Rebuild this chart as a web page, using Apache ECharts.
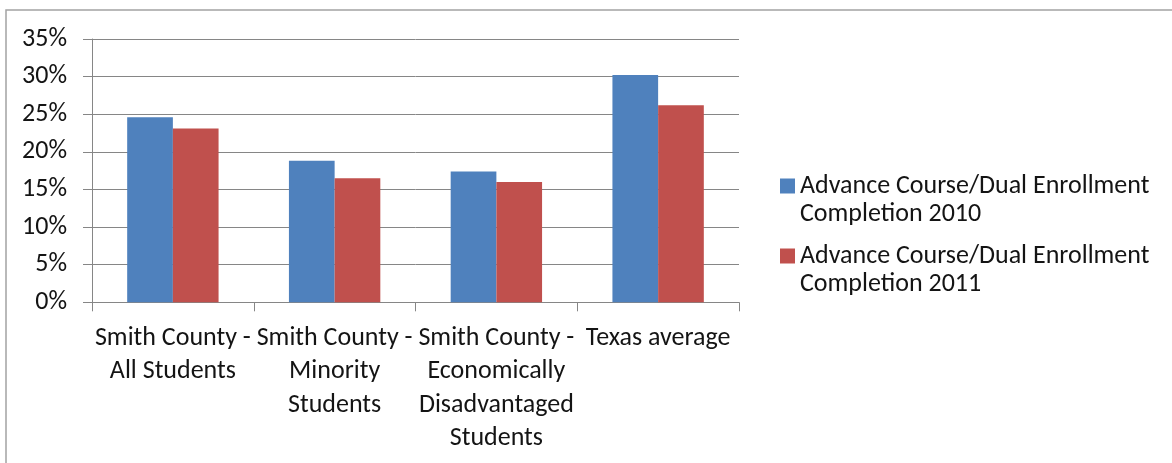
<!DOCTYPE html>
<html>
<head>
<meta charset="utf-8">
<script src="https://cdn.jsdelivr.net/npm/echarts@6/dist/echarts.min.js"></script>
<style>html,body{margin:0;padding:0;background:#fff}#chart{width:1172px;height:463px}</style>
</head>
<body>
<div id="chart"></div>
<script>
// ---- data ----
var categories = [
  'Smith County -\nAll Students',
  'Smith County -\nMinority\nStudents',
  'Smith County -\nEconomically\nDisadvantaged\nStudents',
  'Texas average'
];
var seriesNames = [
  'Advance Course/Dual Enrollment Completion 2010',
  'Advance Course/Dual Enrollment Completion 2011'
];
var values2010 = [24.6, 18.8, 17.4, 30.2];
var values2011 = [23.1, 16.5, 16.0, 26.2];
var yTicks = [0, 5, 10, 15, 20, 25, 30, 35];

// ---- chart ----
var FONT = 'Carlito, Lato, sans-serif';
var TXT = '#141414';
var GRID = '#868686';
var chart = echarts.init(document.getElementById('chart'), null, {renderer: 'canvas'});
chart.setOption({
  animation: false,
  backgroundColor: '#ffffff',
  color: ['#4F81BD', '#C0504D'],
  graphic: [{
    type: 'rect',
    shape: {x: 6, y: 10, width: 1300, height: 600},
    style: {fill: 'none', stroke: '#a3a3a3', lineWidth: 1.5},
    silent: true
  }],
  grid: {left: 92, right: 433, top: 39, bottom: 160.7, containLabel: false},
  legend: {
    orient: 'vertical',
    left: 780,
    top: 144,
    padding: 0,
    itemWidth: 15,
    itemHeight: 15,
    itemGap: -14,
    icon: 'rect',
    data: seriesNames,
    formatter: function (n) { return '\n' + n.replace(' Completion', '\nCompletion'); },
    textStyle: {fontFamily: FONT, fontSize: 26, lineHeight: 28, color: TXT}
  },
  xAxis: {
    type: 'category',
    data: categories,
    axisLine: {show: true, lineStyle: {color: GRID, width: 1}},
    axisTick: {show: true, length: 9, alignWithLabel: false, lineStyle: {color: GRID}},
    axisLabel: {interval: 0, margin: 19, fontFamily: FONT, fontSize: 26, lineHeight: 33.5, color: TXT, align: 'center'},
    splitLine: {show: false}
  },
  yAxis: {
    type: 'value',
    min: 0,
    max: yTicks[yTicks.length - 1],
    interval: yTicks[1] - yTicks[0],
    axisLine: {show: true, lineStyle: {color: GRID, width: 1}},
    axisTick: {show: true, length: 9, inside: false, lineStyle: {color: GRID}},
    axisLabel: {margin: 25, formatter: '{value}%', fontFamily: FONT, fontSize: 26, color: TXT},
    splitLine: {show: true, lineStyle: {color: GRID, width: 1}}
  },
  series: [
    {name: seriesNames[0], type: 'bar', data: values2010, barGap: '0%', barCategoryGap: '43.5%'},
    {name: seriesNames[1], type: 'bar', data: values2011, barGap: '0%', barCategoryGap: '43.5%'}
  ]
});
</script>
</body>
</html>
